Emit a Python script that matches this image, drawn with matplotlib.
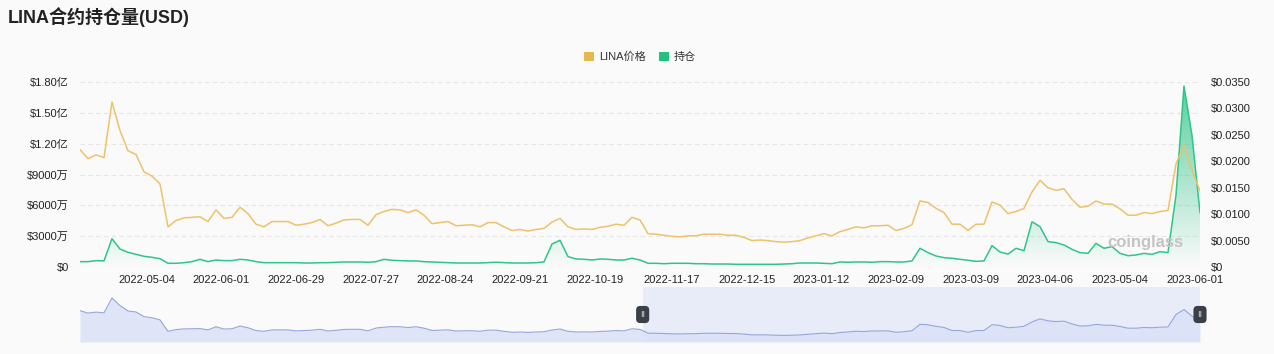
import numpy as np
import pandas as pd
import matplotlib
matplotlib.use("Agg")
import matplotlib.pyplot as plt
import matplotlib.dates as mdates
from matplotlib.patches import Patch
from matplotlib.ticker import FuncFormatter, FixedLocator
from matplotlib.transforms import blended_transform_factory

plt.rcParams['font.family'] = ['Liberation Sans', 'Noto Sans CJK SC', 'DejaVu Sans']

# 数据：每 3 天一个点，2022-04-09 ~ 2023-06-03
dates = pd.date_range('2022-04-09', periods=141, freq='3D')

# LINA 价格 (USD)
price = [
    0.0222, 0.0205, 0.0212, 0.0207, 0.0312, 0.0258, 0.0220, 0.0213, 0.0180, 0.0172,
    0.0157, 0.0076, 0.0088, 0.0093, 0.0094, 0.0095, 0.0086, 0.0108, 0.0092, 0.0094,
    0.0113, 0.0101, 0.0081, 0.0076, 0.0086, 0.0086, 0.0086, 0.0079, 0.0081, 0.0084,
    0.0090, 0.0078, 0.0083, 0.0089, 0.0090,
    0.0090, 0.0079, 0.0099, 0.0105, 0.0109, 0.0108, 0.0103, 0.0108, 0.0098, 0.0082,
    0.0084, 0.0086, 0.0078, 0.0079, 0.0080, 0.0076, 0.0084, 0.0084, 0.0076, 0.0069,
    0.0071, 0.0068, 0.0071, 0.0073, 0.0085, 0.0092, 0.0076, 0.0071, 0.0072, 0.0071,
    0.0075, 0.0077, 0.0081, 0.0079, 0.0094,
    0.0089, 0.0063, 0.0062, 0.0060, 0.0058, 0.0057, 0.0059, 0.0059, 0.0062, 0.0062,
    0.0062, 0.0060, 0.0060, 0.0056, 0.0050, 0.0051, 0.0050, 0.0048, 0.0047, 0.0048,
    0.0050, 0.0055, 0.0059, 0.0063, 0.0059, 0.0067, 0.0071, 0.0076, 0.0074, 0.0078,
    0.0078, 0.0079, 0.0069, 0.0073, 0.0080,
    0.0125, 0.0122, 0.0111, 0.0103, 0.0081, 0.0081, 0.0069, 0.0081, 0.0081, 0.0123,
    0.0117, 0.0101, 0.0105, 0.0111, 0.0142, 0.0164, 0.0150, 0.0145, 0.0148, 0.0128,
    0.0113, 0.0115, 0.0125, 0.0119, 0.0119, 0.0110, 0.0098, 0.0098, 0.0103, 0.0101,
    0.0105, 0.0107, 0.0195, 0.0230, 0.0183, 0.0144,
]

# 持仓 (百万 USD)
oi_m = [
    5.2, 5.2, 6.2, 5.9, 27.5, 17.5, 14.3, 12.3, 10.4, 9.4,
    8.1, 3.6, 3.6, 4.2, 5.2, 7.5, 5.2, 6.8, 6.2, 6.2,
    7.5, 6.8, 5.2, 4.2, 4.2, 4.2, 4.2, 4.2, 3.9, 3.9,
    4.2, 4.2, 4.6, 4.9, 4.9,
    4.9, 4.6, 5.2, 7.5, 6.5, 6.2, 5.9, 5.9, 5.2, 4.9,
    4.6, 4.2, 3.9, 3.9, 3.9, 3.9, 4.2, 4.6, 4.2, 3.9,
    3.9, 3.9, 4.2, 4.9, 22.4, 26.0, 10.1, 7.8, 7.5, 6.8,
    7.8, 7.5, 6.8, 6.8, 8.5,
    6.8, 3.6, 3.6, 3.2, 3.6, 3.6, 3.6, 3.2, 3.2, 2.9,
    2.9, 2.9, 2.6, 2.6, 2.6, 2.6, 2.6, 2.6, 2.9, 3.2,
    3.9, 3.9, 3.9, 3.6, 3.2, 4.9, 4.6, 4.9, 4.9, 4.6,
    5.2, 5.2, 4.9, 4.9, 5.9,
    18.2, 14.0, 10.7, 9.1, 8.5, 7.5, 6.5, 5.5, 5.9, 20.8,
    14.6, 12.6, 18.2, 15.9, 44.0, 39.3, 24.7, 23.7, 21.4, 17.2,
    14.0, 13.3, 23.0, 18.2, 19.8, 13.3, 11.0, 11.7, 13.3, 12.3,
    14.9, 14.0, 70.0, 176.0, 128.0, 53.0,
]

oi = np.array(oi_m) * 1e6
x_tick_labels = ['2022-05-04', '2022-06-01', '2022-06-29', '2022-07-27', '2022-08-24',
                 '2022-09-21', '2022-10-19', '2022-11-17', '2022-12-15', '2023-01-12',
                 '2023-02-09', '2023-03-09', '2023-04-06', '2023-05-04', '2023-06-01']
left_ticks = [0, 3e7, 6e7, 9e7, 1.2e8, 1.5e8, 1.8e8]
right_ticks = [0, 0.005, 0.01, 0.015, 0.02, 0.025, 0.03, 0.035]
slider_start = pd.Timestamp('2022-11-06')

YELLOW = '#eec26a'
GREEN = '#2fc58a'
BG = '#fafafa'
TXT = '#222222'

W, H = 1274, 354
fig = plt.figure(figsize=(W / 100, H / 100), dpi=100, facecolor=BG)


def fx(px):
    return px / W


def fy(px):
    return 1 - px / H


ax = fig.add_axes([fx(80), fy(267), fx(1120), (267 - 82) / H])
ax.set_facecolor(BG)
for s in ax.spines.values():
    s.set_visible(False)

xnum = mdates.date2num(dates)

# 持仓：渐变面积
fill = ax.fill_between(xnum, oi, 0, facecolor='none', edgecolor='none')
grad = np.zeros((200, 1, 4))
grad[:, 0, :3] = matplotlib.colors.to_rgb(GREEN)
grad[:, 0, 3] = np.linspace(0.8, 0.0, 200)
im = ax.imshow(grad, aspect='auto', extent=[xnum[0], xnum[-1], 0, oi.max()],
               origin='upper', zorder=1, interpolation='bilinear')
im.set_clip_path(fill.get_paths()[0], transform=ax.transData)
ax.plot(xnum, oi, color=GREEN, lw=1.1, zorder=2)

ax.set_xlim(xnum[0], xnum[-1])
ax.set_ylim(0, 1.8e8)
ax.yaxis.set_major_locator(FixedLocator(left_ticks))


def left_fmt(v, pos):
    if v == 0:
        return '$0'
    if v >= 1e8:
        return '$%.2f亿' % (v / 1e8)
    return '$%d万' % round(v / 1e4)


ax.yaxis.set_major_formatter(FuncFormatter(left_fmt))
ax.set_xticks(mdates.date2num(pd.to_datetime(x_tick_labels)))
ax.set_xticklabels(x_tick_labels)
ax.tick_params(axis='both', length=0, labelsize=8, colors=TXT)
ax.tick_params(axis='y', pad=8)
ax.tick_params(axis='x', pad=6)
ax.grid(axis='y', color='#e6e6e6', lw=0.8, ls=(0, (4, 3)), zorder=0)
ax.set_axisbelow(True)

# 价格：右轴
ax2 = ax.twinx()
for s in ax2.spines.values():
    s.set_visible(False)
ax2.plot(xnum, price, color=YELLOW, lw=1.1, zorder=3)
ax2.set_ylim(0, 0.035)
ax2.yaxis.set_major_locator(FixedLocator(right_ticks))
ax2.yaxis.set_major_formatter(FuncFormatter(lambda v, p: '$0' if v == 0 else '$%.4f' % v))
ax2.tick_params(axis='y', length=0, labelsize=8, colors=TXT, pad=8)
ax2.set_xlim(xnum[0], xnum[-1])

# 水印
ax.text(0.985, 0.135, 'coinglass', transform=ax.transAxes, ha='right', va='center',
        fontsize=12, fontweight='bold', color='#c4c4c4', zorder=4)

# 标题与图例
fig.text(fx(8), fy(17), 'LINA合约持仓量(USD)', fontsize=13, fontweight='bold',
         color=TXT, va='center', ha='left')
handles = [Patch(facecolor='#e6b94f', edgecolor='none', label='LINA价格'),
           Patch(facecolor='#20c27c', edgecolor='none', label='持仓')]
fig.legend(handles=handles, loc='center', bbox_to_anchor=(fx(640), fy(57)), ncol=2,
           frameon=False, fontsize=8, handlelength=0.9, handleheight=0.9,
           handletextpad=0.4, columnspacing=1.2, labelcolor='#333333')

# 底部缩放条
axs = fig.add_axes([fx(80), fy(342), fx(1120), 55 / H])
axs.set_facecolor(BG)
for s in axs.spines.values():
    s.set_visible(False)
axs.set_xticks([])
axs.set_yticks([])
axs.fill_between(xnum, price, 0, color='#dfe5f6', lw=0)
axs.plot(xnum, price, color='#93a7de', lw=0.8)
axs.set_xlim(xnum[0], xnum[-1])
axs.set_ylim(0, 0.039)
s0 = mdates.date2num(slider_start)
axs.axvspan(s0, xnum[-1], color='#dde3f8', alpha=0.6, lw=0)
tr = blended_transform_factory(axs.transData, axs.transAxes)
for hx in (s0, xnum[-1]):
    axs.text(hx, 0.5, 'II', transform=tr, ha='center', va='center', fontsize=6.5,
             color='#d5d8de', zorder=6, clip_on=False,
             bbox=dict(boxstyle='round,pad=0.45,rounding_size=0.45', fc='#3b3f47', ec='none'))

fig.savefig('out.png', dpi=100, facecolor=BG)
